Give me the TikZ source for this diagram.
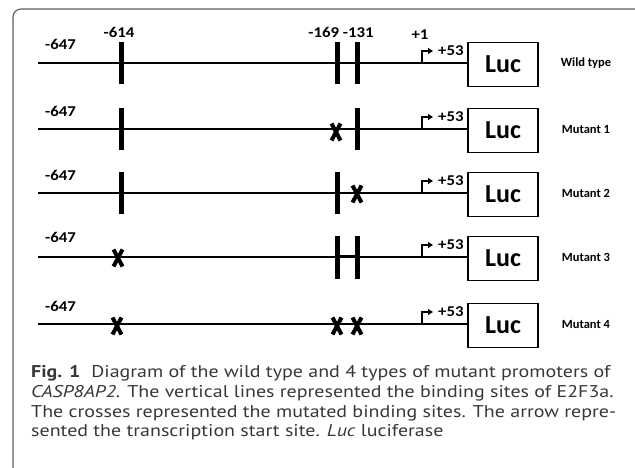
\documentclass[tikz,border=0pt]{standalone}
\usepackage{fontspec}
\usepackage{graphicx}
\setmainfont{PT Sans}
\newfontfamily\carl{Carlito}
\usetikzlibrary{arrows.meta}
\definecolor{framecol}{RGB}{95,95,95}
\definecolor{capcol}{RGB}{55,55,55}
\newcommand{\wide}[1]{\scalebox{1.12}[1]{#1}}
\newcommand{\capwide}[1]{\scalebox{1.175}[1]{#1}}
\begin{document}
\begin{tikzpicture}[x=1pt,y=-1pt,
  mline/.style={line width=1.8pt},
  site/.style={line width=5pt},
  mut/.style={line width=4pt},
  lucbox/.style={draw,line width=1.9pt,minimum width=70pt,minimum height=44pt,inner sep=0pt,font=\carl\bfseries\fontsize{26}{26}\selectfont},
  poslab/.style={font=\carl\bfseries\fontsize{15}{15}\selectfont,inner sep=0pt},
  rowlab/.style={font=\carl\bfseries\fontsize{12.5}{12.5}\selectfont,inner sep=0pt},
  tss/.style={line width=1.4pt,-{Triangle[length=5pt,width=6pt]}},
  caption/.style={anchor=base west,inner sep=0pt,text=capcol,font=\fontsize{17}{20}\selectfont},
  xmark/.pic={\draw[mut] (-4.5,-8.5) -- (4.5,8.5) (-4.5,8.5) -- (4.5,-8.5);}
]
\useasboundingbox (0,0) rectangle (635,468);
\begin{scope}
  \clip (0,0) rectangle (635,468);
  \draw[framecol,line width=1.2pt,rounded corners=8pt] (13,9) rectangle (644,485);
\end{scope}

% rows
\foreach \r/\y/\ly/\lab in {1/63/44/Wild type,2/129/111/Mutant 1,3/193/175/Mutant 2,4/257/237/Mutant 3,5/324/306/Mutant 4}{
  \coordinate (a\r) at (38,\y);
  \node[lucbox] (luc\r) at (503,\y+1.5) {Luc};
  \draw[mline] (a\r) -- (a\r -| luc\r.west);
  \coordinate (t\r) at (422,\y);
  \draw[tss] (t\r) -- ++(0,-12) -- ++(11,0);
  \node[poslab,anchor=west] (p\r) at (438,\y-12) {\wide{+53}};
  \node[poslab,anchor=west] (s\r) at (45,\ly) {\wide{-647}};
  \node[rowlab] (m\r) at (586,\y) {\lab};
}

% row 1 labels
\node[poslab] (l614) at (119,32) {\wide{-614}};
\node[poslab] (l169) at (341,32) {\wide{-169 -131}};
\node[poslab] (lp1) at (420,35) {\wide{+1}};

% binding sites
\draw[site] (121,42) -- (121,84);
\draw[site] (337,42) -- (337,84);
\draw[site] (357,42) -- (357,84);

\draw[site] (121,108) -- (121,150);
\pic at (336,132) {xmark};
\draw[site] (357,108) -- (357,150);

\draw[site] (121,172) -- (121,214);
\draw[site] (337,172) -- (337,214);
\pic at (357,194) {xmark};

\pic at (118,258) {xmark};
\draw[site] (337,236) -- (337,279);
\draw[site] (357,236) -- (357,279);
\draw[line width=3pt] (337,256) -- (357,256);

\pic at (117,326) {xmark};
\pic at (337,326) {xmark};
\pic at (357,326) {xmark};

% caption
\node[caption] (c1) at (31,377) {\capwide{\textbf{Fig. 1}\hspace{0.55em}Diagram of the wild type and 4 types of mutant promoters of}};
\node[caption] (c2) at (31,397) {\capwide{\textit{CASP8AP2}. The vertical lines represented the binding sites of E2F3a.}};
\node[caption] (c3) at (31,417) {\capwide{The crosses represented the mutated binding sites. The arrow repre-}};
\node[caption] (c4) at (31,436) {\capwide{sented the transcription start site. \textit{Luc} luciferase}};
\end{tikzpicture}
\end{document}
